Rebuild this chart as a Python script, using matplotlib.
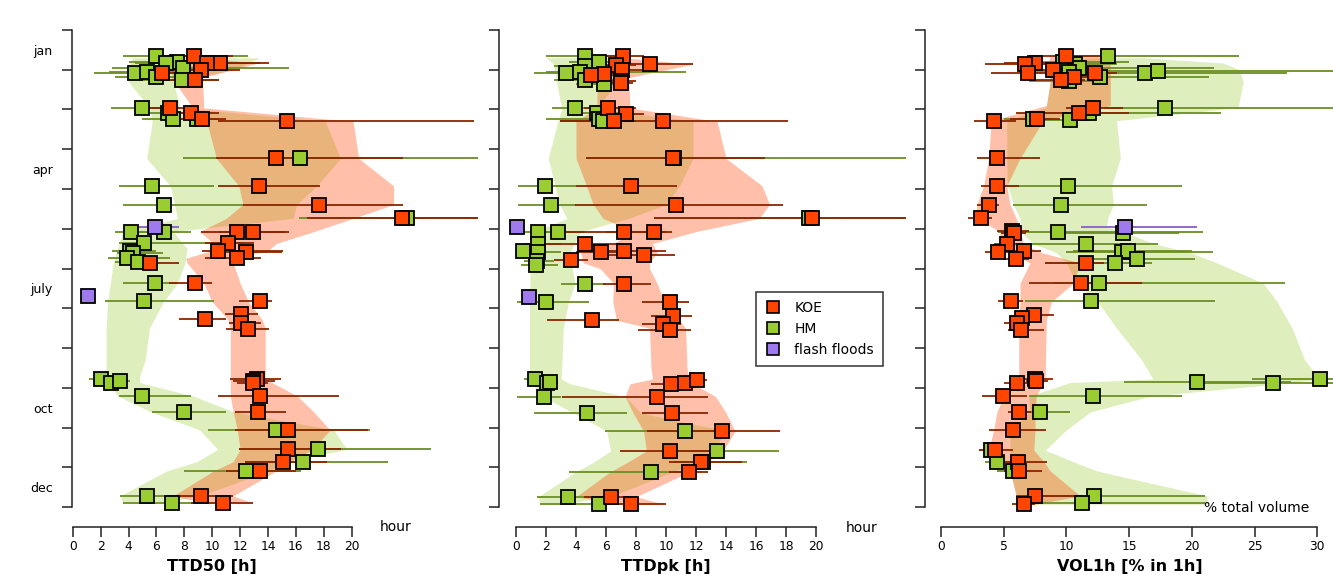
import matplotlib
matplotlib.use("Agg")
import matplotlib.pyplot as plt
from matplotlib.lines import Line2D

# month position: 1 = 1 jan, 13 = 31 dec
months = ["jan", "apr", "july", "oct", "dec"]
month_pos = [1.5, 4.5, 7.5, 10.5, 12.5]

# ---------------- TTD50 [h] ----------------
# (month, value, low, high)
ttd50_koe = [
    (1.65, 8.7, 6.5, 11.5), (1.82, 10.55, 8.0, 14.1), (1.84, 9.6, 7.5, 13.4),
    (2.0, 9.2, 7.0, 12.0), (2.09, 6.4, 4.5, 8.5), (2.27, 8.8, 7.0, 10.5),
    (2.95, 7.0, 5.5, 8.5), (3.08, 8.45, 6.5, 10.5), (3.25, 9.3, 7.5, 11.0),
    (3.28, 15.35, 10.4, 28.8), (4.23, 14.6, 10.3, 23.7), (4.92, 13.35, 10.4, 17.7),
    (5.39, 17.65, 12.2, 23.7), (5.74, 23.6, 16.8, 30.0), (6.07, 11.8, 9.2, 15.2),
    (6.08, 12.9, 10.5, 15.5), (6.37, 11.1, 9.5, 13.0), (6.56, 10.4, 9.3, 15.1),
    (6.58, 12.4, 10.5, 15.0), (6.74, 11.8, 9.5, 13.5), (6.85, 5.55, 4.0, 7.6),
    (7.37, 8.8, 6.9, 10.0), (7.83, 13.4, 11.9, 14.3), (8.14, 12.1, 10.9, 13.3),
    (8.27, 9.5, 7.6, 11.0), (8.36, 12.05, 11.2, 13.5), (8.53, 12.6, 11.0, 14.1),
    (9.78, 13.2, 11.3, 14.9), (9.83, 12.9, 11.5, 14.5), (9.87, 12.95, 11.8, 14.0),
    (10.21, 13.4, 10.4, 19.1), (10.6, 13.25, 11.6, 15.3), (11.06, 15.4, 11.6, 21.2),
    (11.55, 15.4, 11.9, 19.2), (11.86, 15.05, 12.35, 18.2), (12.09, 13.4, 11.0, 16.0),
    (12.72, 9.2, 6.9, 11.5), (12.91, 10.75, 8.5, 12.95),
]
ttd50_hm = [
    (1.65, 5.95, 3.6, 12.6), (1.81, 7.5, 4.0, 10.0), (1.83, 6.7, 4.5, 9.5),
    (1.95, 7.9, 2.8, 15.5), (2.07, 4.45, 1.5, 7.5), (2.05, 5.3, 2.6, 8.0),
    (2.18, 5.97, 3.0, 9.0), (2.27, 7.8, 5.0, 10.5), (2.95, 4.95, 2.75, 7.5),
    (3.08, 6.8, 4.5, 9.0), (3.25, 7.2, 5.0, 9.5), (3.24, 8.9, 6.5, 10.5),
    (4.23, 16.3, 7.9, 30.0), (4.92, 5.7, 3.3, 10.1), (5.39, 6.55, 3.6, 12.2),
    (5.74, 24.0, 16.2, 30.0), (6.07, 4.15, 3.0, 6.5), (6.07, 6.55, 4.5, 8.5),
    (6.37, 5.1, 3.3, 12.2), (6.56, 4.1, 2.8, 6.0), (6.62, 4.3, 3.2, 6.5),
    (6.74, 3.87, 2.5, 7.0), (6.84, 4.7, 3.0, 6.0), (7.37, 5.9, 3.6, 7.5),
    (7.83, 5.1, 2.3, 10.1), (9.78, 2.0, 1.2, 3.0), (9.87, 2.75, 2.0, 3.5),
    (9.83, 3.4, 2.5, 4.1), (10.21, 5.0, 3.3, 8.5), (10.6, 8.0, 5.7, 11.0),
    (11.06, 14.6, 9.7, 21.3), (11.55, 17.55, 11.9, 25.7), (11.86, 16.5, 12.35, 22.6),
    (12.09, 12.4, 8.0, 16.4), (12.72, 5.35, 3.4, 7.0), (12.91, 7.15, 3.6, 9.0),
]
ttd50_flash = [(5.96, 5.9, 4.7, 7.6), (7.7, 1.07, 1.07, 1.07)]

# band: month, low, high
ttd50_koe_band_m = [1.70, 1.83, 2.2, 2.96, 3.30, 4.23, 4.92, 5.39, 5.74, 6.07, 6.37, 6.55, 6.74,
                    6.86, 7.37, 7.84, 8.27, 8.5, 9.78, 10.21, 10.6, 11.06, 11.55, 11.86, 12.09,
                    12.72, 12.9]
ttd50_koe_band_lo = [9.1, 7.2, 7.1, 8.6, 9.6, 10.3, 11.9, 12.2, 11.0, 9.1, 10.1, 10.0, 8.1,
                     8.2, 9.4, 10.0, 11.1, 11.3, 11.3, 11.3, 11.5, 11.8, 12.0, 11.5, 10.1, 7.2, 9.6]
ttd50_koe_band_hi = [9.2, 13.3, 9.3, 9.4, 20.1, 20.5, 23.0, 23.0, 20.1, 17.3, 14.6, 14.0, 11.5,
                     11.5, 12.0, 12.6, 13.55, 13.8, 13.8, 16.1, 17.25, 18.45, 17.2, 15.6, 14.6,
                     11.5, 12.95]
ttd50_hm_band_m = [1.70, 2.0, 2.3, 2.95, 3.30, 4.23, 4.92, 5.39, 5.74, 6.07, 6.5, 6.86, 7.37,
                   7.84, 8.5, 9.3, 9.72, 9.87, 10.21, 10.6, 11.06, 11.55, 11.86, 12.09, 12.72,
                   12.9]
ttd50_hm_band_lo = [4.3, 3.9, 4.0, 5.5, 5.7, 5.3, 7.0, 7.3, 7.5, 3.6, 3.2, 2.9, 2.7, 2.5, 2.4,
                    2.4, 2.4, 2.5, 3.25, 5.55, 9.1, 10.4, 8.9, 6.75, 3.4, 3.6]
ttd50_hm_band_hi = [13.4, 11.5, 7.2, 7.7, 18.1, 19.2, 17.5, 16.05, 15.8, 7.2, 8.2, 8.05, 7.5,
                    6.5, 5.5, 5.2, 4.8, 4.8, 8.65, 11.5, 18.7, 19.65, 15.1, 14.15, 9.1, 6.0]

# ---------------- TTDpk [h] ----------------
ttdpk_koe = [
    (1.65, 7.1, 5.5, 8.5), (1.86, 8.93, 6.5, 11.8), (1.88, 6.67, 5.0, 8.0),
    (2.0, 7.05, 5.5, 8.5), (2.1, 5.87, 4.5, 7.5), (2.12, 5.0, 3.0, 6.5),
    (2.28, 6.97, 5.5, 8.0), (2.33, 7.0, 6.0, 7.8), (2.97, 6.15, 4.5, 8.0),
    (3.11, 7.3, 5.5, 8.5), (3.28, 6.53, 2.9, 8.0), (3.28, 9.78, 2.9, 18.1),
    (4.23, 10.45, 4.67, 16.6), (4.92, 7.65, 4.0, 10.7), (5.39, 10.67, 3.9, 17.8),
    (5.74, 19.75, 9.2, 26.0), (6.08, 7.2, 3.0, 10.0), (6.08, 9.2, 6.0, 10.4),
    (6.38, 4.6, 2.0, 7.0), (6.58, 5.67, 4.0, 7.5), (6.55, 7.2, 4.5, 10.0),
    (6.78, 3.65, 2.5, 4.8), (6.67, 8.5, 6.0, 10.6), (7.39, 7.22, 5.8, 9.0),
    (7.85, 10.29, 8.4, 11.5), (8.2, 10.45, 9.0, 11.7), (8.3, 5.07, 2.07, 6.87),
    (8.4, 9.78, 8.4, 11.0), (8.55, 10.29, 8.15, 11.67), (9.9, 10.31, 9.0, 11.5),
    (9.87, 11.27, 10.0, 12.3), (9.8, 12.05, 11.0, 12.7), (10.22, 9.38, 3.05, 12.8),
    (10.63, 10.42, 8.4, 12.8), (11.09, 13.73, 8.7, 17.6), (11.59, 10.29, 6.9, 13.0),
    (11.88, 12.33, 10.2, 15.05), (12.11, 11.55, 10.2, 12.8), (12.74, 6.31, 4.5, 8.0),
    (12.93, 7.64, 6.0, 10.0),
]
ttdpk_hm = [
    (1.65, 4.6, 2.0, 7.0), (1.8, 5.55, 3.5, 7.5), (1.9, 4.6, 2.5, 6.5),
    (2.07, 3.33, 1.2, 5.5), (2.05, 4.27, 2.0, 11.3), (2.27, 4.6, 2.5, 6.5),
    (2.35, 5.87, 4.0, 7.5), (2.97, 3.93, 2.4, 5.5), (3.1, 5.4, 3.5, 7.0),
    (3.25, 5.55, 2.0, 7.5), (3.3, 5.8, 3.0, 7.5), (4.23, 10.5, 4.67, 26.0),
    (4.92, 1.93, 0.1, 4.0), (5.39, 2.3, 0.1, 4.0), (5.74, 19.5, 9.2, 26.0),
    (6.08, 1.49, 0.5, 2.5), (6.08, 2.82, 1.5, 4.5), (6.38, 1.49, 0.5, 3.0),
    (6.56, 0.49, 0.0, 1.5), (6.58, 1.47, 0.5, 3.0), (6.8, 1.38, 0.5, 2.5),
    (6.9, 1.33, 0.3, 2.8), (7.39, 4.6, 3.0, 6.0), (7.85, 2.0, 0.07, 4.87),
    (9.78, 1.27, 0.5, 2.0), (9.87, 2.05, 1.0, 2.8), (9.85, 2.27, 1.5, 2.8),
    (10.22, 1.89, 0.04, 3.0), (10.63, 4.71, 1.22, 7.42), (11.09, 11.29, 5.93, 14.0),
    (11.59, 13.38, 10.0, 17.55), (11.86, 12.45, 10.5, 15.4), (12.11, 8.98, 3.55, 11.0),
    (12.74, 3.45, 1.42, 5.0), (12.93, 5.53, 1.6, 7.0),
]
ttdpk_flash = [(5.96, 0.09, 0.0, 0.5), (7.72, 0.89, 0.5, 1.3)]

ttdpk_koe_band_m = [1.70, 1.86, 2.2, 2.96, 3.30, 4.23, 4.92, 5.39, 5.74, 6.07, 6.37, 6.6, 6.86,
                    7.0, 7.37, 7.84, 8.3, 8.5, 9.5, 9.78, 9.9, 10.22, 10.63, 11.09, 11.59,
                    11.88, 12.11, 12.74, 12.93]
ttdpk_koe_band_lo = [7.15, 6.6, 5.4, 5.4, 4.0, 4.0, 4.7, 5.15, 5.8, 7.8, 6.5, 4.3, 4.5, 5.6,
                     6.5, 6.45, 6.7, 8.9, 9.0, 9.1, 7.6, 7.27, 7.8, 8.5, 8.7, 7.4, 6.3, 4.0, 6.9]
ttdpk_koe_band_hi = [7.2, 11.8, 7.5, 7.6, 13.4, 14.0, 16.4, 16.9, 16.2, 12.0, 9.1, 9.4, 8.9,
                     8.9, 9.4, 9.9, 10.9, 11.3, 11.4, 11.5, 11.8, 13.3, 14.0, 14.6, 13.8, 12.7,
                     11.6, 8.0, 9.9]
ttdpk_hm_band_m = [1.70, 1.86, 2.3, 3.0, 3.28, 4.23, 4.92, 5.39, 5.74, 6.07, 6.6, 6.86, 7.37,
                   7.84, 8.5, 9.5, 9.78, 9.9, 10.22, 10.63, 11.09, 11.59, 11.88, 12.11, 12.74,
                   12.93]
ttdpk_hm_band_lo = [2.0, 2.5, 2.7, 3.05, 2.8, 2.15, 2.6, 2.9, 3.4, 1.27, 0.93, 0.93, 0.93, 0.9,
                    0.9, 0.9, 0.93, 1.05, 1.8, 3.8, 6.05, 6.3, 5.15, 4.0, 1.5, 1.6]
ttdpk_hm_band_hi = [6.9, 7.4, 6.7, 5.4, 11.8, 11.8, 10.9, 10.0, 7.5, 4.3, 3.6, 3.7, 3.93, 3.5,
                    3.15, 3.05, 3.0, 3.6, 7.27, 8.3, 14.0, 13.15, 11.8, 10.5, 6.3, 3.0]

# ---------------- VOL1h [% in 1h] ----------------
vol1h_koe = [
    (1.65, 10.0, 7.0, 12.8), (1.83, 7.5, 5.0, 10.0), (1.86, 6.7, 3.5, 9.0),
    (2.0, 8.9, 6.5, 11.0), (2.07, 6.9, 4.0, 9.5), (2.09, 12.3, 10.0, 14.0),
    (2.19, 10.6, 8.5, 13.0), (2.27, 9.6, 7.5, 11.5), (2.95, 12.1, 10.0, 14.5),
    (3.08, 11.0, 6.0, 15.0), (3.28, 4.25, 2.6, 6.0), (3.25, 7.63, 5.5, 9.5),
    (4.23, 4.5, 2.85, 7.9), (4.92, 4.5, 3.2, 6.2), (5.39, 3.83, 2.85, 4.6),
    (5.74, 3.19, 2.15, 4.1), (6.05, 5.64, 4.5, 7.0), (6.1, 5.8, 4.8, 6.8),
    (6.38, 5.24, 4.2, 6.5), (6.59, 4.57, 3.5, 5.5), (6.56, 6.64, 5.5, 8.0),
    (6.75, 5.98, 5.0, 7.0), (6.85, 11.6, 8.3, 13.0), (7.37, 11.17, 7.0, 16.05),
    (7.83, 5.58, 4.57, 6.5), (8.17, 7.42, 6.5, 9.0), (8.25, 6.48, 5.5, 7.5),
    (8.36, 6.04, 5.0, 7.0), (8.55, 6.36, 5.37, 8.2), (9.79, 7.5, 6.5, 8.95),
    (9.83, 7.6, 6.8, 8.5), (9.89, 6.04, 5.0, 7.0), (10.21, 4.97, 3.24, 6.83),
    (10.61, 6.2, 5.37, 7.2), (11.06, 5.72, 3.83, 8.35), (11.57, 4.3, 3.06, 5.77),
    (11.86, 6.17, 5.0, 8.43), (12.09, 6.22, 5.0, 8.03), (12.72, 7.5, 6.0, 11.0),
    (12.93, 6.64, 5.7, 7.5),
]
vol1h_hm = [
    (1.65, 13.3, 10.0, 23.8), (1.8, 9.75, 7.0, 15.0), (1.85, 10.7, 8.0, 14.0),
    (1.95, 11.0, 8.5, 21.8), (2.05, 10.2, 7.0, 12.0), (2.07, 16.3, 12.0, 27.6),
    (2.04, 17.3, 13.0, 31.3), (2.19, 12.7, 9.0, 21.4), (2.28, 10.2, 7.0, 13.0),
    (2.95, 17.9, 13.0, 31.3), (3.08, 11.8, 8.0, 22.3), (3.25, 7.3, 5.0, 9.0),
    (3.27, 10.3, 7.5, 12.0), (4.92, 10.1, 5.0, 19.2), (5.39, 9.57, 5.77, 16.4),
    (6.07, 9.35, 4.55, 20.9), (6.1, 14.5, 10.0, 19.0), (6.38, 11.56, 7.1, 17.3),
    (6.59, 14.4, 10.0, 21.7), (6.55, 14.9, 10.5, 20.0), (6.75, 15.6, 11.0, 20.25),
    (6.85, 13.9, 8.3, 16.8), (7.37, 12.6, 9.0, 27.4), (7.83, 11.94, 6.7, 21.85),
    (9.78, 30.2, 24.8, 31.3), (9.85, 20.44, 14.6, 27.9), (9.87, 26.45, 20.0, 31.3),
    (10.21, 12.1, 7.0, 19.2), (10.61, 7.9, 6.5, 10.3), (11.57, 3.99, 3.0, 5.0),
    (11.86, 4.49, 3.5, 5.5), (12.09, 5.77, 4.5, 7.0), (12.72, 12.23, 8.0, 21.05),
    (12.91, 11.27, 7.0, 21.05),
]
vol1h_flash = [(5.95, 14.7, 11.2, 20.4)]

vol1h_koe_band_m = [1.65, 1.83, 2.3, 2.9, 3.28, 4.23, 4.92, 5.39, 5.74, 6.07, 6.4, 6.6, 6.86,
                    7.37, 7.84, 8.3, 9.78, 10.21, 10.61, 11.06, 11.57, 11.86, 12.09, 12.72, 12.93]
vol1h_koe_band_lo = [8.7, 8.55, 8.7, 8.4, 4.0, 3.8, 3.4, 2.85, 2.85, 4.7, 4.7, 5.5, 7.1, 6.3,
                     6.3, 6.2, 6.2, 5.0, 4.45, 4.2, 3.8, 5.24, 5.5, 6.0, 6.7]
vol1h_koe_band_hi = [12.4, 13.5, 13.5, 13.5, 8.15, 6.3, 5.24, 5.5, 6.0, 6.3, 6.6, 8.0, 11.1,
                     10.55, 8.8, 8.4, 8.3, 7.6, 7.5, 7.5, 7.4, 8.2, 8.7, 11.1, 7.5]
vol1h_hm_band_m = [1.7, 1.83, 2.0, 2.3, 2.95, 3.28, 4.23, 4.92, 5.39, 5.74, 5.96, 6.07, 6.38,
                   6.6, 6.86, 7.37, 7.84, 8.5, 9.3, 9.78, 9.87, 10.21, 10.61, 11.06, 11.57,
                   11.86, 12.09, 12.72, 12.93]
vol1h_hm_band_lo = [10.0, 8.6, 8.6, 8.7, 8.4, 5.24, 5.24, 5.3, 5.77, 6.3, 6.3, 6.3, 7.4, 9.2,
                    10.0, 10.8, 12.5, 14.0, 16.0, 16.9, 10.3, 7.0, 7.1, 5.5, 5.5, 5.5, 5.5,
                    6.0, 6.5]
vol1h_hm_band_hi = [16.1, 22.5, 23.8, 24.1, 23.7, 14.0, 14.3, 13.6, 13.75, 13.3, 13.2, 14.5,
                    17.0, 19.9, 22.0, 25.7, 26.8, 28.0, 29.0, 30.2, 28.0, 16.7, 11.9, 10.0,
                    8.3, 10.55, 12.4, 21.2, 21.2]

KOE_FILL, KOE_BAR = "#ff4500", "#8b2500"
HM_FILL, HM_BAR = "#9acd32", "#6b8e23"
FL_FILL, FL_BAR = "#9f79ee", "#8a5fc8"

W, H = 1333, 575
fig = plt.figure(figsize=(W / 100, H / 100), dpi=100)


def make_ax(left_px, right_px, xlim):
    ax = fig.add_axes([left_px / W, 1 - 510 / H, (right_px - left_px) / W, (510 - 28) / H])
    ax.set_xlim(*xlim)
    ax.set_ylim(13.075, 0.95)
    return ax


def draw_panel(ax, koe, hm, flash, kb, hb, xmax, xstep):
    ax.fill_betweenx(hb[0], hb[1], hb[2], color=HM_FILL, alpha=0.32, lw=0, zorder=1)
    ax.fill_betweenx(kb[0], kb[1], kb[2], color=KOE_FILL, alpha=0.34, lw=0, zorder=1)
    for data, bar in ((hm, HM_BAR), (koe, KOE_BAR), (flash, FL_BAR)):
        for m, v, lo, hi in data:
            ax.hlines(m, lo, hi, color=bar, lw=1.3, zorder=2)
    for data, fill in ((hm, HM_FILL), (koe, KOE_FILL), (flash, FL_FILL)):
        ax.plot([d[1] for d in data], [d[0] for d in data], "s", ms=10.7,
                mfc=fill, mec="black", mew=1.3, ls="none", zorder=3, clip_on=False)
    for s in ("top", "right"):
        ax.spines[s].set_visible(False)
    ax.spines["left"].set_bounds(1, 13)
    ax.spines["bottom"].set_bounds(0, xmax)
    ax.spines["bottom"].set_position(("outward", 12.2))
    for s in ("left", "bottom"):
        ax.spines[s].set_linewidth(1.1)
        ax.spines[s].set_color("#222222")
    ax.set_yticks(range(1, 14))
    ax.set_yticklabels([])
    ax.tick_params(axis="y", which="major", length=7.2, width=1.1, color="#222222")
    ax.set_xticks(range(0, xmax + 1, xstep))
    ax.tick_params(axis="x", length=7, width=1.1, pad=2.5, labelsize=8.8, color="#222222")


ax1 = make_ax(72, 478, ((72 - 72.7) / 13.95, (478 - 72.7) / 13.95))
draw_panel(ax1, ttd50_koe, ttd50_hm, ttd50_flash,
           (ttd50_koe_band_m, ttd50_koe_band_lo, ttd50_koe_band_hi),
           (ttd50_hm_band_m, ttd50_hm_band_lo, ttd50_hm_band_hi), 20, 2)
ax1.set_yticks(month_pos, minor=True)
ax1.set_yticklabels(months, minor=True, fontsize=9)
ax1.tick_params(axis="y", which="minor", length=0, pad=14)

ax2 = make_ax(499, 907, ((499 - 516) / 15, (907 - 516) / 15))
draw_panel(ax2, ttdpk_koe, ttdpk_hm, ttdpk_flash,
           (ttdpk_koe_band_m, ttdpk_koe_band_lo, ttdpk_koe_band_hi),
           (ttdpk_hm_band_m, ttdpk_hm_band_lo, ttdpk_hm_band_hi), 20, 2)

ax3 = make_ax(925, 1333, ((925 - 941) / 12.54, (1333 - 941) / 12.54))
draw_panel(ax3, vol1h_koe, vol1h_hm, vol1h_flash,
           (vol1h_koe_band_m, vol1h_koe_band_lo, vol1h_koe_band_hi),
           (vol1h_hm_band_m, vol1h_hm_band_lo, vol1h_hm_band_hi), 30, 5)

# axis titles
fig.text(212 / W, 1 - 566 / H, "TTD50 [h]", ha="center", va="center", fontsize=11.5, weight="bold")
fig.text(666 / W, 1 - 566 / H, "TTDpk [h]", ha="center", va="center", fontsize=11.5, weight="bold")
fig.text(1130 / W, 1 - 566 / H, "VOL1h [% in 1h]", ha="center", va="center", fontsize=11.5,
         weight="bold")
fig.text(396 / W, 1 - 527 / H, "hour", ha="center", va="center", fontsize=10)
fig.text(862 / W, 1 - 528 / H, "hour", ha="center", va="center", fontsize=10)
fig.text(1257 / W, 1 - 508 / H, "% total volume", ha="center", va="center", fontsize=10)

handles = [Line2D([], [], marker="s", ls="none", ms=8.6, mfc=c, mec="black", mew=1.2)
           for c in (KOE_FILL, HM_FILL, FL_FILL)]
leg = fig.legend(handles, ["KOE", "HM", "flash floods"], loc="upper left",
                 bbox_to_anchor=(756 / W, 1 - 292 / H), borderaxespad=0, fontsize=10,
                 frameon=True, fancybox=False, handlelength=1.2, handletextpad=0.9,
                 labelspacing=0.5, borderpad=0.65)
leg.get_frame().set_edgecolor("black")
leg.get_frame().set_linewidth(1.1)

fig.savefig("out.png", dpi=100, facecolor="white")
